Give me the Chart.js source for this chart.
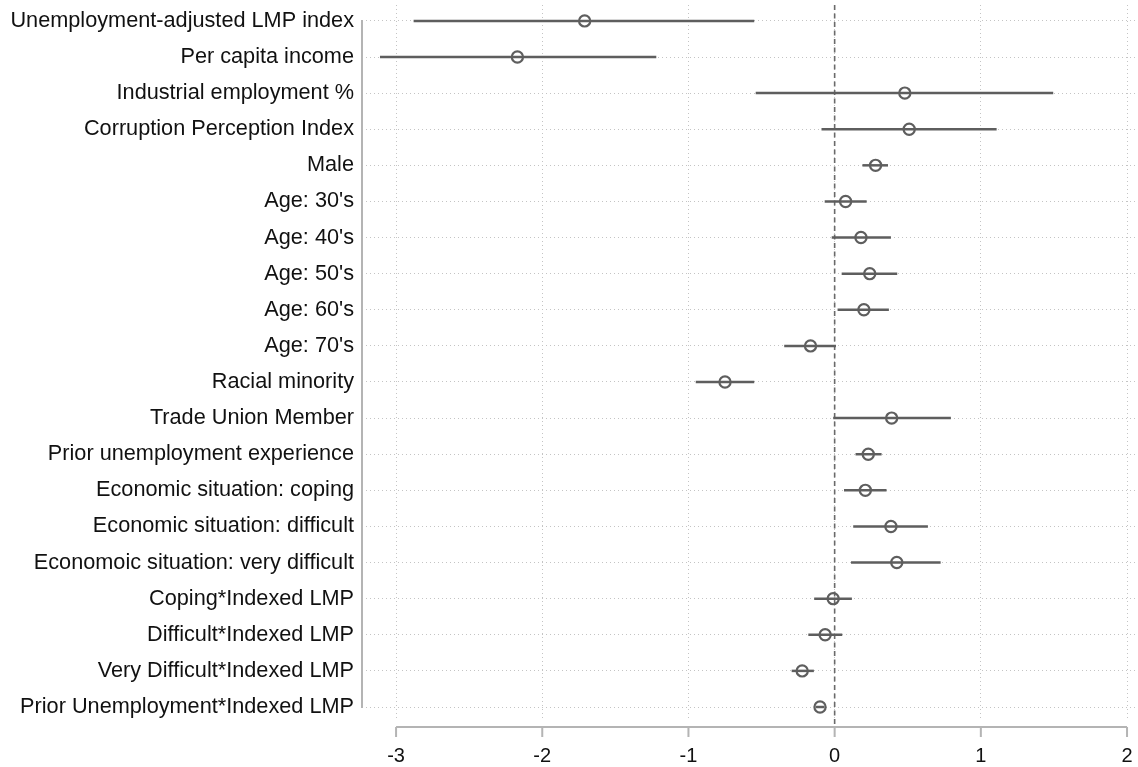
<!DOCTYPE html>
<html>
<head>
<meta charset="utf-8">
<script src="https://cdn.jsdelivr.net/npm/chart.js@4/dist/chart.umd.min.js"></script>
<style>
  html, body { margin: 0; padding: 0; background: #fff; }
  #wrap { width: 1138px; height: 767px; }
</style>
</head>
<body>
<div id="wrap"><canvas id="c" width="1138" height="767"></canvas></div>
<script>
// coefficient plot: estimate + 95% CI per variable (top to bottom)
const rowLabels = [
  'Unemployment-adjusted LMP index',
  'Per capita income',
  'Industrial employment %',
  'Corruption Perception Index',
  'Male',
  "Age: 30's",
  "Age: 40's",
  "Age: 50's",
  "Age: 60's",
  "Age: 70's",
  'Racial minority',
  'Trade Union Member',
  'Prior unemployment experience',
  'Economic situation: coping',
  'Economic situation: difficult',
  'Economoic situation: very difficult',
  'Coping*Indexed LMP',
  'Difficult*Indexed LMP',
  'Very Difficult*Indexed LMP',
  'Prior Unemployment*Indexed LMP'
];
const estimates = [-1.71, -2.17, 0.48, 0.51, 0.28, 0.075, 0.18, 0.24, 0.20, -0.165, -0.75, 0.39, 0.23, 0.21, 0.385, 0.425, -0.01, -0.065, -0.222, -0.10];
const ciLow     = [-2.88, -3.11, -0.54, -0.09, 0.19, -0.068, -0.02, 0.048, 0.02, -0.345, -0.95, -0.01, 0.143, 0.064, 0.127, 0.112, -0.14, -0.18, -0.294, -0.13];
const ciHigh    = [-0.55, -1.22, 1.495, 1.108, 0.365, 0.219, 0.385, 0.428, 0.371, 0.009, -0.55, 0.795, 0.321, 0.355, 0.638, 0.725, 0.118, 0.052, -0.142, -0.07];
const xTicks = [-3, -2, -1, 0, 1, 2];

const ink = '#5e5e5e';
const axisGrey = '#b4b4b4';
const family = 'Liberation Sans, Arial, Helvetica, sans-serif';

// one short line per row for the confidence interval
const ciSets = rowLabels.map((_, i) => ({
  type: 'line',
  data: [{ x: ciLow[i], y: i + 1 }, { x: ciHigh[i], y: i + 1 }],
  borderColor: ink,
  borderWidth: 2.5,
  pointRadius: 0,
  order: 2
}));

const pointSet = {
  type: 'scatter',
  data: rowLabels.map((_, i) => ({ x: estimates[i], y: i + 1 })),
  pointStyle: 'circle',
  pointRadius: 5.6,
  pointBorderWidth: 2.2,
  borderColor: ink,
  backgroundColor: 'rgba(0,0,0,0)',
  order: 1
};

// no label overhang padding, chart area is set by hand
const noPad = s => { s.paddingTop = s.paddingBottom = s.paddingLeft = s.paddingRight = 0; };

// zero reference line + Stata-style axis lines
const frame = {
  id: 'frame',
  beforeDatasetsDraw(chart) {
    const { ctx, chartArea, scales } = chart;
    const x0 = scales.x.getPixelForValue(0);
    ctx.save();
    ctx.strokeStyle = '#6a6a6a';
    ctx.lineWidth = 1.6;
    ctx.setLineDash([5, 3.5]);
    ctx.beginPath();
    ctx.moveTo(x0, chartArea.top);
    ctx.lineTo(x0, chartArea.bottom + 7);
    ctx.stroke();
    ctx.restore();
  },
  afterDraw(chart) {
    const { ctx, chartArea, scales } = chart;
    const sx = scales.x, sy = scales.y;
    const yAxis = chartArea.bottom + 7;
    ctx.save();
    ctx.strokeStyle = axisGrey;
    ctx.lineWidth = 2;
    ctx.beginPath();
    ctx.moveTo(chartArea.left, sy.getPixelForValue(1) - 1);
    ctx.lineTo(chartArea.left, sy.getPixelForValue(rowLabels.length) + 1);
    ctx.moveTo(sx.getPixelForValue(xTicks[0]), yAxis);
    ctx.lineTo(sx.getPixelForValue(xTicks[xTicks.length - 1]), yAxis);
    xTicks.forEach(v => {
      const px = sx.getPixelForValue(v);
      ctx.moveTo(px, yAxis);
      ctx.lineTo(px, yAxis + 10);
    });
    ctx.stroke();
    ctx.restore();
  }
};

new Chart(document.getElementById('c'), {
  data: { datasets: [...ciSets, pointSet] },
  options: {
    responsive: false,
    animation: false,
    devicePixelRatio: 1,
    layout: { autoPadding: false, padding: { top: 5, right: 0, left: 0, bottom: 0 } },
    plugins: { legend: { display: false }, tooltip: { enabled: false } },
    scales: {
      x: {
        type: 'linear',
        min: -3.233,
        max: 2.075,
        afterBuildTicks: s => { s.ticks = xTicks.map(v => ({ value: v })); },
        afterFit: s => { s.height = 47; noPad(s); },
        grid: { color: '#c4c4c4', lineWidth: 1, drawTicks: false },
        border: { display: false, dash: [1, 3] },
        ticks: { color: '#111', font: { family, size: 20 }, padding: 24, autoSkip: false, maxRotation: 0 }
      },
      y: {
        type: 'linear',
        reverse: true,
        min: 0.56,
        max: 20.36,
        afterBuildTicks: s => { s.ticks = rowLabels.map((_, i) => ({ value: i + 1 })); },
        afterFit: s => { s.width = 362; noPad(s); },
        grid: { color: '#c4c4c4', lineWidth: 1, drawTicks: false },
        border: { display: false, dash: [1, 3] },
        ticks: {
          color: '#111',
          font: { family, size: 21.7 },
          padding: 8,
          autoSkip: false,
          callback: v => rowLabels[v - 1]
        }
      }
    }
  },
  plugins: [frame]
});
</script>
</body>
</html>
